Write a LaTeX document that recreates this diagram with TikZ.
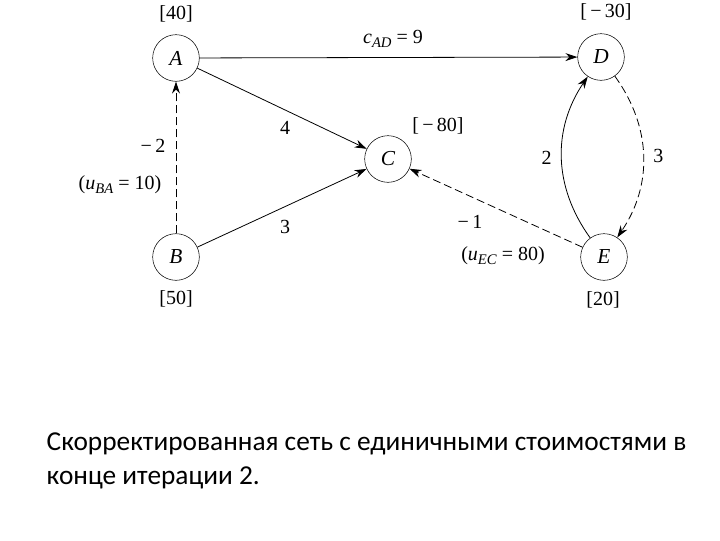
\documentclass[tikz,border=0pt]{standalone}
\usepackage{fontspec}
\setmainfont{Liberation Serif}
\newfontfamily\capfont{Carlito}
\usetikzlibrary{arrows.meta}
\newcommand{\iv}[1]{\textit{#1}}
\begin{document}
\begin{tikzpicture}[x=0.75pt,y=-0.75pt,
  nd/.style={circle,draw,minimum size=35pt,inner sep=0pt,font=\fontsize{16}{18}\selectfont\itshape},
  lb/.style={font=\fontsize{15}{17}\selectfont},
  ar/.style={-{Stealth[length=9pt,width=6pt]},line width=0.6pt},
  da/.style={ar,dashed,dash pattern=on 6pt off 3pt}]
\useasboundingbox (0,0) rectangle (720,540);
\node[nd] (A) at (176,58) {A};
\node[nd] (D) at (601,57) {D};
\node[nd] (C) at (388,159) {C};
\node[nd] (B) at (176,257) {B};
\node[nd] (E) at (604,257) {E};
\node[lb] (la) at (176,14) {[40]};
\node[lb] (ld) at (606,12) {[\,−\,30]};
\node[lb] (lc) at (438,126) {[\,−\,80]};
\node[lb] (lbb) at (176,299) {[50]};
\node[lb] (le) at (603,300) {[20]};
\draw[ar] (A) -- (D);
\node[lb] (cad) at (393,39) {\iv{c}\raisebox{-0.4ex}{\fontsize{11}{12}\selectfont\iv{AD}} = 9};
\draw[ar] (A) -- (C);
\node[lb] (l4) at (285,128) {4};
\draw[ar] (B) -- (C);
\node[lb] (l3) at (285,227) {3};
\draw[da] (B) -- (A);
\node[lb] (m2) at (153,146) {−\,2};
\node[lb] (uba) at (120,185) {(\iv{u}\raisebox{-0.4ex}{\fontsize{11}{12}\selectfont\iv{BA}} = 10)};
\draw[da] (E) -- (C);
\node[lb] (m1) at (470,222) {−\,1};
\node[lb] (uec) at (503,256) {(\iv{u}\raisebox{-0.4ex}{\fontsize{11}{12}\selectfont\iv{EC}} = 80)};
\draw[ar] (E) to[bend left=35] node[lb,left,xshift=-4pt] {2} (D);
\draw[da] (D) to[bend left=35] node[lb,right,xshift=4pt] {3} (E);
\node[anchor=west,align=left,font=\capfont\fontsize{20.5}{26}\selectfont] (cap) at (42,461)
 {Скорректированная сеть с единичными стоимостями в\\конце итерации 2.};
\end{tikzpicture}
\end{document}
